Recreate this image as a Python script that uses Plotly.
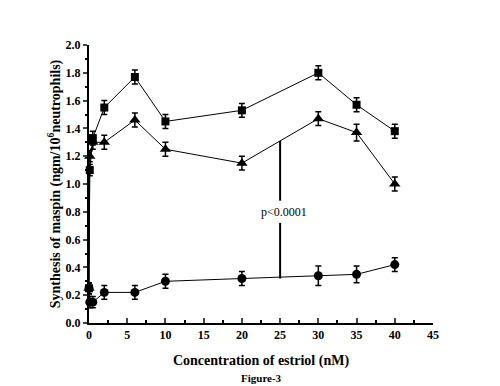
import plotly.graph_objects as go

conc = [0, 0.1, 0.5, 2, 6, 10, 20, 30, 35, 40]
sq_vals = [0.25, 1.10, 1.33, 1.55, 1.77, 1.45, 1.53, 1.80, 1.57, 1.38]
sq_err = [0.04, 0.04, 0.05, 0.05, 0.05, 0.05, 0.05, 0.05, 0.05, 0.05]
tri_vals = [0.25, 1.20, 1.30, 1.30, 1.46, 1.25, 1.15, 1.47, 1.37, 1.00]
tri_err = [0.04, 0.04, 0.05, 0.05, 0.05, 0.05, 0.05, 0.05, 0.06, 0.05]
cir_vals = [0.25, 0.15, 0.15, 0.22, 0.22, 0.30, 0.32, 0.34, 0.35, 0.42]
cir_err = [0.04, 0.04, 0.04, 0.05, 0.05, 0.05, 0.05, 0.07, 0.06, 0.05]

x_ticks = [0, 5, 10, 15, 20, 25, 30, 35, 40, 45]
y_ticks = [0.0, 0.2, 0.4, 0.6, 0.8, 1.0, 1.2, 1.4, 1.6, 1.8, 2.0]

p_x = 25
p_top = 1.31
p_bottom = 0.32
p_text_y = 0.80

font_family = "Liberation Serif"

fig = go.Figure()
for vals, err, sym, sz in [(sq_vals, sq_err, "square", 8),
                           (tri_vals, tri_err, "triangle-up", 10),
                           (cir_vals, cir_err, "circle", 9)]:
    fig.add_trace(go.Scatter(
        x=conc, y=vals, mode="lines+markers",
        line=dict(color="black", width=1),
        marker=dict(symbol=sym, size=sz, color="black"),
        error_y=dict(type="data", array=err, color="black", thickness=1.5, width=3),
        cliponaxis=False, showlegend=False))

# p-value vertical line with gap for text
fig.add_trace(go.Scatter(x=[p_x, p_x], y=[p_top, p_text_y + 0.08], mode="lines",
                         line=dict(color="black", width=2), showlegend=False))
fig.add_trace(go.Scatter(x=[p_x, p_x], y=[p_text_y - 0.08, p_bottom], mode="lines",
                         line=dict(color="black", width=2), showlegend=False))
fig.add_annotation(x=p_x + 0.5, y=p_text_y, text="p<0.0001", showarrow=False,
                   font=dict(family=font_family, size=12, color="black"))

fig.add_annotation(x=0.5, y=-0.225, xref="paper", yref="paper", xanchor="center",
                   text="<b>Figure-3</b>", showarrow=False,
                   font=dict(family=font_family, size=11, color="black"))

fig.update_layout(
    width=500, height=386,
    margin=dict(l=81, r=75, t=37, b=71),
    plot_bgcolor="white", paper_bgcolor="white",
    font=dict(family=font_family, color="black", size=12),
    xaxis=dict(range=[0, 45], tickvals=x_ticks, ticks="inside", ticklen=5, tickwidth=1.5,
               minor=dict(dtick=2.5, ticks="inside", ticklen=3, tickcolor="black"),
               showline=True, linecolor="black", linewidth=2, showgrid=False, zeroline=False,
               tickfont=dict(size=12, family=font_family, weight="bold"),
               title=dict(text="<b>Concentration of estriol (nM)</b>", font=dict(size=14, family=font_family), standoff=14)),
    yaxis=dict(range=[0, 2.0], tickvals=y_ticks, tickformat=".1f", ticks="outside", ticklen=4, tickwidth=1.5,
               minor=dict(dtick=0.1, ticks="outside", ticklen=2, tickcolor="black"),
               showline=True, linecolor="black", linewidth=2, showgrid=False, zeroline=False,
               tickfont=dict(size=12, family=font_family, weight="bold"),
               title=dict(text="<b>Synthesis of maspin (ngm/10<sup>6</sup>neutrophils)</b>", font=dict(size=14, family=font_family), standoff=2)),
)

fig.write_html("out.html")
